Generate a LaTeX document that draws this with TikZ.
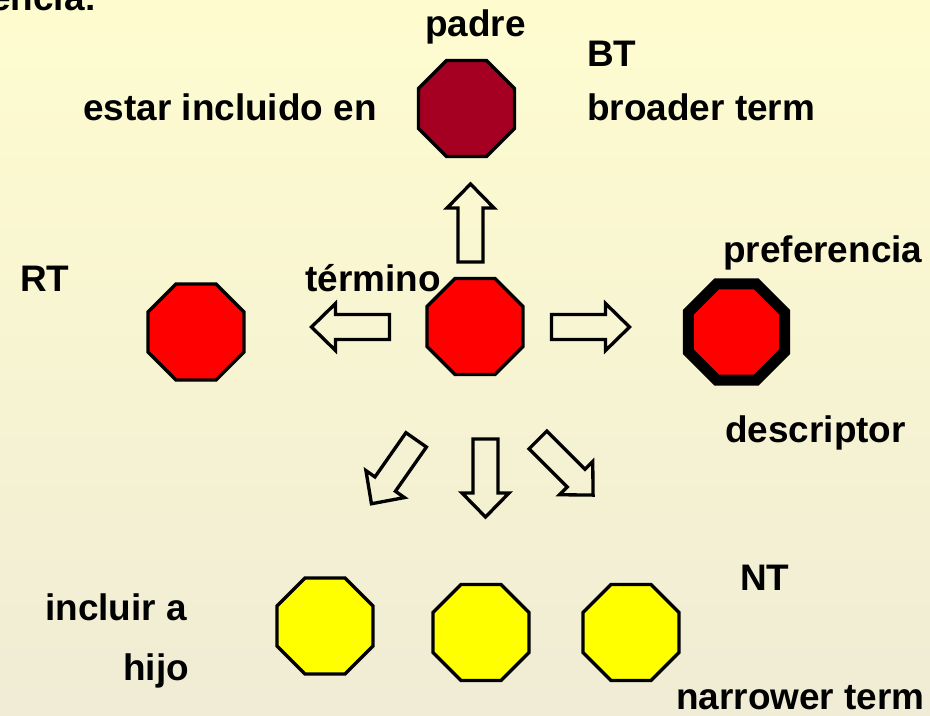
\documentclass[tikz,border=0pt]{standalone}
\usepackage{fontspec}
\setmainfont{Liberation Sans}
\usetikzlibrary{shapes.geometric}

\definecolor{bgtop}{RGB}{254,252,207}
\definecolor{bgbottom}{RGB}{240,236,213}
\definecolor{parentred}{RGB}{165,0,33}
\definecolor{termred}{RGB}{255,0,0}
\definecolor{childyellow}{RGB}{255,255,0}

\begin{document}
\begin{tikzpicture}[x=0.75pt,y=-0.75pt,
  octo/.style={regular polygon, regular polygon sides=8, minimum size=78pt,
    inner sep=0pt, draw=black, line width=2.5pt, line join=miter},
  lbl/.style={anchor=base west, inner sep=0pt,
    font=\fontsize{27.7}{33}\selectfont\bfseries},
  blockarrow/.pic={
    \draw[line width=2.5pt, line join=miter]
      (-39,12.5) -- (15,12.5) -- (15,23.5) -- (39,0) -- (15,-23.5)
      -- (15,-12.5) -- (-39,-12.5) -- cycle;}
]
% background
\shade[top color=bgtop, bottom color=bgbottom] (0,0) rectangle (930,715);
\useasboundingbox (0,0) rectangle (930,715);

% octagons
\node[octo, fill=parentred] (bt) at (466.5,108.5) {};
\node[octo, fill=termred] (term) at (475,326.5) {};
\node[octo, fill=termred] (rt) at (196,332) {};
\node[octo, fill=termred, line width=8.25pt] (pref) at (736.5,332) {};
\node[octo, fill=childyellow] (nt1) at (325,626) {};
\node[octo, fill=childyellow] (nt2) at (481,632.5) {};
\node[octo, fill=childyellow] (nt3) at (631,632.5) {};

% block arrows
\pic[rotate=90]  at (470.5,223) {blockarrow};
\pic[rotate=180] at (350.5,327) {blockarrow};
\pic[rotate=0]   at (590.5,327) {blockarrow};
\pic[rotate=-90] at (485.5,478) {blockarrow};
\pic[rotate=-45] at (565.5,467.5) {blockarrow};
\pic[rotate=235] at (393.8,471.8) {blockarrow};

% labels
\node[lbl] (cut) at (-10,10) {encia:};
\node[lbl] (padre) at (425,36) {padre};
\node[lbl] (incl) at (83,120) {estar incluido en};
\node[lbl] (btl) at (587,66) {BT};
\node[lbl] (broad) at (587,120) {broader term};
\node[lbl] (rtl) at (20,291) {RT};
\node[lbl] (termino) at (305,291) {término};
\node[lbl] (prefl) at (723,262) {preferencia};
\node[lbl] (desc) at (725,442) {descriptor};
\node[lbl] (ntl) at (740,590) {NT};
\node[lbl] (inclA) at (45,620) {incluir a};
\node[lbl] (hijo) at (123,680) {hijo};
\node[lbl] (narrow) at (676,709) {narrower term};
\end{tikzpicture}
\end{document}
